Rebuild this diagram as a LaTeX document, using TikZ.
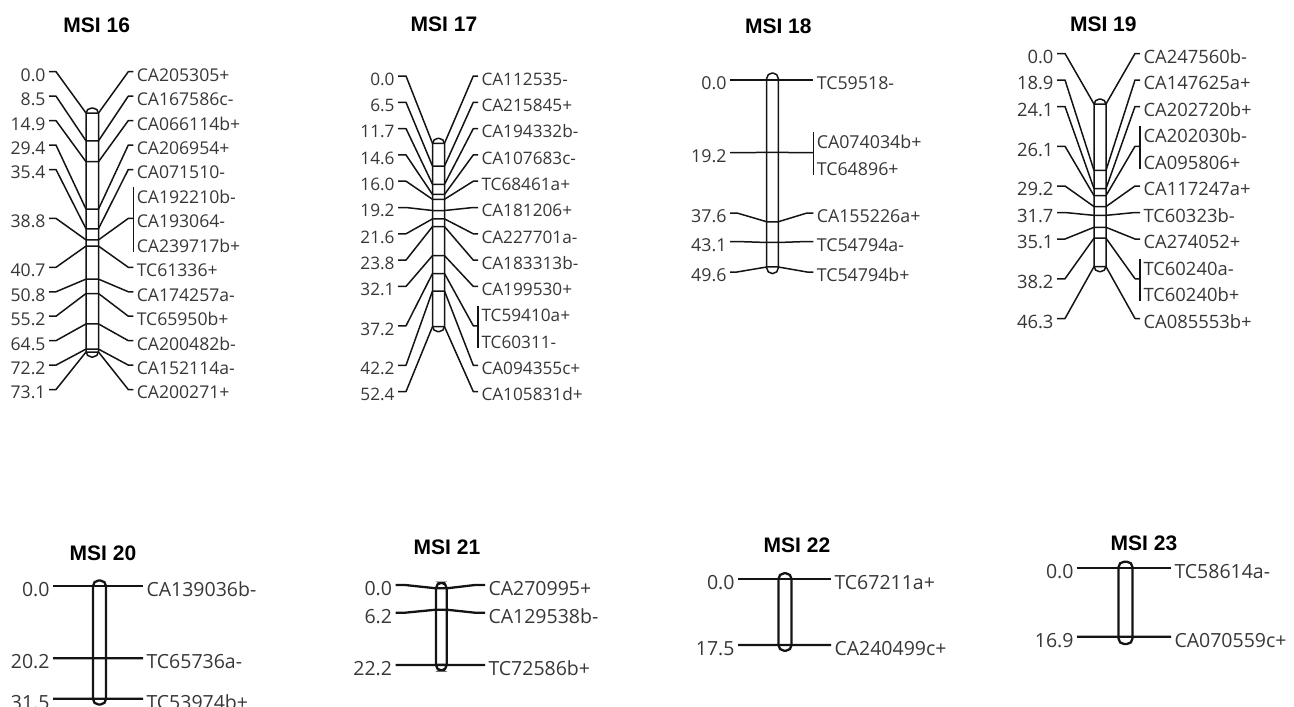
\documentclass[tikz,border=0pt]{standalone}
\usepackage{fontspec}
\newfontfamily\labfam{Open Sans}
\newfontfamily\titfam{Liberation Sans}
\usetikzlibrary{calc}
\definecolor{linecol}{RGB}{20,20,20}
\definecolor{labcol}{RGB}{55,55,55}
\def\qFs{17.5}\def\qTh{18.6}
\newcommand\labfont{\labfam\fontsize{\qFs}{\qFs}\selectfont}
\newcommand\titfont{\titfam\bfseries\fontsize{21}{24}\selectfont}
\tikzset{
  lab/.style={font=\labfont, text=labcol, inner sep=0pt, outer xsep=3.5pt, outer ysep=0pt, text height=\qTh pt, text depth=0pt},
  ttl/.style={font=\titfont, text=black, inner sep=0pt},
  conn/.style={draw=linecol, line width=1.5pt, line join=round},
  chrbar/.style={draw=linecol, line width=1.5pt, rounded corners=5.5pt},
  bottomrow/.style={conn/.append style={line width=2.3pt}, chrbar/.append style={line width=2.3pt}}
}
\begin{document}
\begin{tikzpicture}[x=1pt,y=-1pt]
\useasboundingbox (0,0) rectangle (1294,707);

% ---------------- MSI 16 ----------------
\begin{scope}
\def\qFs{17.6}\def\qTh{18.8}
\def\qLs{49}\def\qLb{56}\def\qXl{86}\def\qXr{98.5}\def\qRb{128.3}\def\qRe{133.3}
\def\qYz{113}\def\qSc{3.27}\def\qRz{71.7}\def\qDr{24.45}
\node[ttl] (T16) at (96.7,25.5) {MSI 16};
\draw[chrbar] (\qXl,108) rectangle (\qXr,357);
\foreach \t/\r [count=\i] in {CA205305+/0, CA167586c-/1, CA066114b+/2, CA206954+/3, CA071510-/4, CA192210b-/5, CA193064-/6, CA239717b+/7, TC61336+/8, CA174257a-/9, TC65950b+/10, CA200482b-/11, CA152114a-/12, CA200271+/13}
  \node[lab,anchor=west] (R16-\i) at (\qRe,\qRz+\qDr*\r) {\t};
\coordinate (G16a) at (R16-7.west);
\draw[conn] ([yshift=7pt]R16-6.west) -- ([yshift=-9pt]R16-8.west);
\foreach \mk/\lr/\rr/\tg [count=\i] in {0.0/0/0/R16-1.west, 8.5/1/1/R16-2.west, 14.9/2/2/R16-3.west, 29.4/3/3/R16-4.west, 35.4/4/4/R16-5.west, 38.8/6/6/G16a, 40.7/8/8/R16-9.west, 50.8/9/9/R16-10.west, 55.2/10/10/R16-11.west, 64.5/11/11/R16-12.west, 72.2/12/12/R16-13.west, 73.1/13/13/R16-14.west}{
  \node[lab,anchor=east] (L16-\i) at (\qLs,\qRz+\qDr*\lr) {\mk};
  \draw[conn] (L16-\i.east) -- (\qLb,\qRz+\qDr*\lr) -- (\qXl,\qYz+\qSc*\mk) -- (\qXr,\qYz+\qSc*\mk) -- (\qRb,\qRz+\qDr*\rr) -- (\tg);
}
\end{scope}

% ---------------- MSI 17 ----------------
\begin{scope}
\def\qFs{17.2}\def\qTh{18.4}
\def\qLs{398}\def\qLb{406}\def\qXl{432.5}\def\qXr{444.5}\def\qRb{473.3}\def\qRe{478}
\def\qYz{143.3}\def\qSc{3.5}\def\qRz{76}\def\qDr{26.3}
\node[ttl] (T17) at (444,24) {MSI 17};
\draw[chrbar] (\qXl,138.3) rectangle (\qXr,331.7);
\foreach \t/\r [count=\i] in {CA112535-/0, CA215845+/1, CA194332b-/2, CA107683c-/3, TC68461a+/4, CA181206+/5, CA227701a-/6, CA183313b-/7, CA199530+/8, TC59410a+/9, TC60311-/10, CA094355c+/11, CA105831d+/12}
  \node[lab,anchor=west] (R17-\i) at (\qRe,\qRz+\qDr*\r) {\t};
\coordinate (G17a) at ($(R17-10.west)!0.5!(R17-11.west)$);
\draw[conn] ([yshift=7pt]R17-10.west) -- ([yshift=-9pt]R17-11.west);
\foreach \mk/\lr/\rr/\tg [count=\i] in {0.0/0/0/R17-1.west, 6.5/1/1/R17-2.west, 11.7/2/2/R17-3.west, 14.6/3/3/R17-4.west, 16.0/4/4/R17-5.west, 19.2/5/5/R17-6.west, 21.6/6/6/R17-7.west, 23.8/7/7/R17-8.west, 32.1/8/8/R17-9.west, 37.2/9.5/9.5/G17a, 42.2/11/11/R17-12.west, 52.4/12/12/R17-13.west}{
  \node[lab,anchor=east] (L17-\i) at (\qLs,\qRz+\qDr*\lr) {\mk};
  \draw[conn] (L17-\i.east) -- (\qLb,\qRz+\qDr*\lr) -- (\qXl,\qYz+\qSc*\mk) -- (\qXr,\qYz+\qSc*\mk) -- (\qRb,\qRz+\qDr*\rr) -- (\tg);
}
\end{scope}

% ---------------- MSI 18 ----------------
\begin{scope}
\def\qFs{17.8}\def\qTh{19}
\def\qLs{730}\def\qLb{737}\def\qXl{766.7}\def\qXr{778.3}\def\qRb{807}\def\qRe{813.3}
\def\qYz{80}\def\qSc{3.77}\def\qRz{0}\def\qDr{1}
\node[ttl] (T18) at (778.3,26) {MSI 18};
\draw[chrbar] (\qXl,73) rectangle (\qXr,273.5);
\foreach \t/\r [count=\i] in {TC59518-/80, CA074034b+/139.3, TC64896+/166, CA155226a+/213, TC54794a-/241.5, TC54794b+/272}
  \node[lab,anchor=west] (R18-\i) at (\qRe,\qRz+\qDr*\r) {\t};
\coordinate (G18a) at ($(R18-2.west)!0.5!(R18-3.west)$);
\draw[conn] ([yshift=7pt]R18-2.west) -- ([yshift=-9pt]R18-3.west);
\foreach \mk/\lr/\rr/\tg [count=\i] in {0.0/80/80/R18-1.west, 19.2/152.7/152.7/G18a, 37.6/213/213/R18-4.west, 43.1/241.5/241.5/R18-5.west, 49.6/272/272/R18-6.west}{
  \node[lab,anchor=east] (L18-\i) at (\qLs,\qRz+\qDr*\lr) {\mk};
  \draw[conn] (L18-\i.east) -- (\qLb,\qRz+\qDr*\lr) -- (\qXl,\qYz+\qSc*\mk) -- (\qXr,\qYz+\qSc*\mk) -- (\qRb,\qRz+\qDr*\rr) -- (\tg);
}
\end{scope}

% ---------------- MSI 19 ----------------
\begin{scope}
\def\qFs{18.4}\def\qTh{19.6}
\def\qLs{1057}\def\qLb{1065}\def\qXl{1094}\def\qXr{1106}\def\qRb{1135}\def\qRe{1140}
\def\qYz{104}\def\qSc{3.513}\def\qRz{53.5}\def\qDr{26.5}
\node[ttl] (T19) at (1103.3,24) {MSI 19};
\draw[chrbar] (\qXl,99) rectangle (\qXr,271.7);
\foreach \t/\r [count=\i] in {CA247560b-/0, CA147625a+/1, CA202720b+/2, CA202030b-/3, CA095806+/4, CA117247a+/5, TC60323b-/6, CA274052+/7, TC60240a-/8, TC60240b+/9, CA085553b+/10}
  \node[lab,anchor=west] (R19-\i) at (\qRe,\qRz+\qDr*\r) {\t};
\coordinate (G19a) at ($(R19-4.west)!0.5!(R19-5.west)$);
\coordinate (G19b) at ($(R19-9.west)!0.5!(R19-10.west)$);
\draw[conn] ([yshift=7pt]R19-4.west) -- ([yshift=-9pt]R19-5.west);
\draw[conn] ([yshift=7pt]R19-9.west) -- ([yshift=-9pt]R19-10.west);
\foreach \mk/\lr/\rr/\tg [count=\i] in {0.0/0/0/R19-1.west, 18.9/1/1/R19-2.west, 24.1/2/2/R19-3.west, 26.1/3.5/3.5/G19a, 29.2/5/5/R19-6.west, 31.7/6/6/R19-7.west, 35.1/7/7/R19-8.west, 38.2/8.5/8.5/G19b, 46.3/10/10/R19-11.west}{
  \node[lab,anchor=east] (L19-\i) at (\qLs,\qRz+\qDr*\lr) {\mk};
  \draw[conn] (L19-\i.east) -- (\qLb,\qRz+\qDr*\lr) -- (\qXl,\qYz+\qSc*\mk) -- (\qXr,\qYz+\qSc*\mk) -- (\qRb,\qRz+\qDr*\rr) -- (\tg);
}
\end{scope}

% ---------------- MSI 20 ----------------
\begin{scope}[bottomrow]
\def\qFs{19.5}\def\qTh{21}
\def\qLs{53}\def\qLb{58}\def\qXl{93}\def\qXr{106}\def\qRb{138}\def\qRe{143}
\def\qYz{586}\def\qSc{3.58}\def\qRz{0}\def\qDr{1}
\node[ttl] (T20) at (103,553) {MSI 20};
\draw[chrbar] (\qXl,580.5) rectangle (\qXr,704.5);
\foreach \t/\r [count=\i] in {CA139036b-/586, TC65736a-/658.3, TC53974b+/698.8}
  \node[lab,anchor=west] (R20-\i) at (\qRe,\qRz+\qDr*\r) {\t};
\foreach \mk/\lr/\rr/\tg [count=\i] in {0.0/586/586/R20-1.west, 20.2/658.3/658.3/R20-2.west, 31.5/698.8/698.8/R20-3.west}{
  \node[lab,anchor=east] (L20-\i) at (\qLs,\qRz+\qDr*\lr) {\mk};
  \draw[conn] (L20-\i.east) -- (\qLb,\qRz+\qDr*\lr) -- (\qXl,\qYz+\qSc*\mk) -- (\qXr,\qYz+\qSc*\mk) -- (\qRb,\qRz+\qDr*\rr) -- (\tg);
}
\end{scope}

% ---------------- MSI 21 ----------------
\begin{scope}[bottomrow]
\def\qFs{19.5}\def\qTh{21}
\def\qLs{395.5}\def\qLb{405}\def\qXl{436}\def\qXr{446.7}\def\qRb{475}\def\qRe{485}
\def\qYz{588.3}\def\qSc{3.45}\def\qRz{0}\def\qDr{1}
\node[ttl] (T21) at (447,547) {MSI 21};
\draw[chrbar] (\qXl,582.7) rectangle (\qXr,670.5);
\foreach \t/\r [count=\i] in {CA270995+/585, CA129538b-/612.7, TC72586b+/665}
  \node[lab,anchor=west] (R21-\i) at (\qRe,\qRz+\qDr*\r) {\t};
\foreach \mk/\lr/\rr/\tg [count=\i] in {0.0/585/585/R21-1.west, 6.2/612.7/612.7/R21-2.west, 22.2/665/665/R21-3.west}{
  \node[lab,anchor=east] (L21-\i) at (\qLs,\qRz+\qDr*\lr) {\mk};
  \draw[conn] (L21-\i.east) -- (\qLb,\qRz+\qDr*\lr) -- (\qXl,\qYz+\qSc*\mk) -- (\qXr,\qYz+\qSc*\mk) -- (\qRb,\qRz+\qDr*\rr) -- (\tg);
}
\end{scope}

% ---------------- MSI 22 ----------------
\begin{scope}[bottomrow]
\def\qFs{19.5}\def\qTh{21}
\def\qLs{738}\def\qLb{743}\def\qXl{778.5}\def\qXr{791.5}\def\qRb{826}\def\qRe{831}
\def\qYz{579.3}\def\qSc{3.754}\def\qRz{0}\def\qDr{1}
\node[ttl] (T22) at (797,545) {MSI 22};
\draw[chrbar] (\qXl,573.3) rectangle (\qXr,650.7);
\foreach \t/\r [count=\i] in {TC67211a+/579.3, CA240499c+/645}
  \node[lab,anchor=west] (R22-\i) at (\qRe,\qRz+\qDr*\r) {\t};
\foreach \mk/\lr/\rr/\tg [count=\i] in {0.0/579.3/579.3/R22-1.west, 17.5/645/645/R22-2.west}{
  \node[lab,anchor=east] (L22-\i) at (\qLs,\qRz+\qDr*\lr) {\mk};
  \draw[conn] (L22-\i.east) -- (\qLb,\qRz+\qDr*\lr) -- (\qXl,\qYz+\qSc*\mk) -- (\qXr,\qYz+\qSc*\mk) -- (\qRb,\qRz+\qDr*\rr) -- (\tg);
}
\end{scope}

% ---------------- MSI 23 ----------------
\begin{scope}[bottomrow]
\def\qFs{19.5}\def\qTh{21}
\def\qLs{1077}\def\qLb{1082}\def\qXl{1118.5}\def\qXr{1132.5}\def\qRb{1166}\def\qRe{1171}
\def\qYz{568.3}\def\qSc{4.047}\def\qRz{0}\def\qDr{1}
\node[ttl] (T23) at (1144,543) {MSI 23};
\draw[chrbar] (\qXl,561.7) rectangle (\qXr,644);
\foreach \t/\r [count=\i] in {TC58614a-/568.3, CA070559c+/636.7}
  \node[lab,anchor=west] (R23-\i) at (\qRe,\qRz+\qDr*\r) {\t};
\foreach \mk/\lr/\rr/\tg [count=\i] in {0.0/568.3/568.3/R23-1.west, 16.9/636.7/636.7/R23-2.west}{
  \node[lab,anchor=east] (L23-\i) at (\qLs,\qRz+\qDr*\lr) {\mk};
  \draw[conn] (L23-\i.east) -- (\qLb,\qRz+\qDr*\lr) -- (\qXl,\qYz+\qSc*\mk) -- (\qXr,\qYz+\qSc*\mk) -- (\qRb,\qRz+\qDr*\rr) -- (\tg);
}
\end{scope}
\end{tikzpicture}
\end{document}
